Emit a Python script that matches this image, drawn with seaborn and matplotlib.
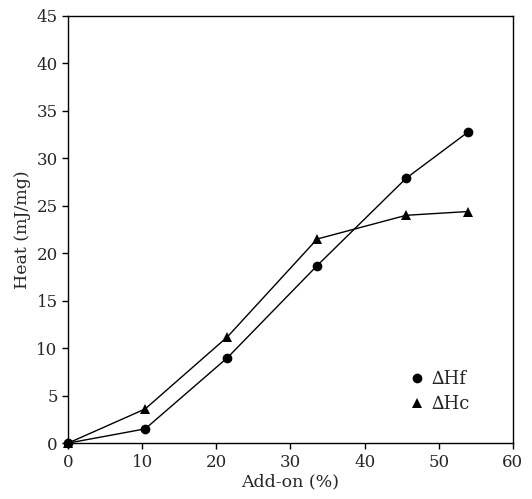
import seaborn as sns
import matplotlib.pyplot as plt
import pandas as pd

# data
add_on = [0, 10.4, 21.5, 33.6, 45.6, 54.0]
heat_hf = [0, 1.5, 9.0, 18.7, 27.9, 32.8]
heat_hc = [0, 3.6, 11.2, 21.5, 24.0, 24.4]
series_names = ['∆Hf', '∆Hc']

df = pd.concat([
    pd.DataFrame({'Add-on': add_on, 'Heat': heat_hf, 'Series': series_names[0]}),
    pd.DataFrame({'Add-on': add_on, 'Heat': heat_hc, 'Series': series_names[1]}),
])

sns.set_style("ticks")
plt.rcParams['font.family'] = ['DejaVu Serif']

fig = plt.figure(figsize=(5.32, 4.99), dpi=100)
ax = fig.add_axes([0.128, 0.112, 0.836, 0.856])

sns.lineplot(data=df, x='Add-on', y='Heat', hue='Series', style='Series',
             markers={'∆Hf': 'o', '∆Hc': '^'}, dashes=False,
             palette={'∆Hf': 'black', '∆Hc': 'black'},
             markersize=7, linewidth=1, markeredgewidth=0, ax=ax)
for line in ax.lines:
    line.set_clip_on(False)

ax.set_xlim(0, 60)
ax.set_ylim(0, 45)
ax.set_xticks(range(0, 61, 10))
ax.set_yticks(range(0, 46, 5))
ax.set_xlabel('Add-on (%)', fontsize=12.5, labelpad=2)
ax.set_ylabel('Heat (mJ/mg)', fontsize=12.5)
ax.tick_params(labelsize=12, length=4, width=1, color='black')
for s in ax.spines.values():
    s.set_linewidth(1)
    s.set_color('black')

leg = ax.legend(loc='center left', bbox_to_anchor=(0.735, 0.12), frameon=False,
                fontsize=13, handlelength=0.6, handletextpad=0.5, labelspacing=0.4)
for h in leg.legend_handles:
    h.set_linestyle('')

fig.savefig('out.png', dpi=100)
